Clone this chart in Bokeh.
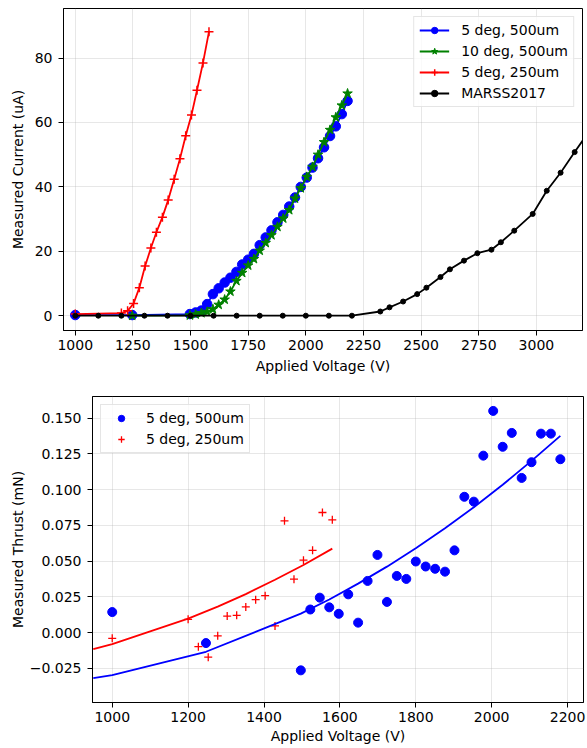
from bokeh.plotting import figure
from bokeh.models import Range1d, FixedTicker, CustomJSTickFormatter
from bokeh.embed import file_html
from bokeh.resources import INLINE

FONT = "DejaVu Sans"
FS = "14px"

# ---------------- Top chart: measured current ----------------
blue_v = [1000, 1247, 1497, 1522, 1547, 1572, 1597, 1622, 1648, 1673, 1699, 1724,
          1750, 1775, 1800, 1826, 1851, 1877, 1902, 1928, 1953, 1978, 2004, 2029,
          2053, 2079, 2105, 2130, 2156, 2181]
blue_i = [0.2, 0.2, 0.5, 1.0, 1.6, 3.6, 6.7, 8.5, 10.3, 11.8, 13.6, 15.9,
          17.4, 19.2, 21.9, 24.3, 26.5, 29.0, 31.3, 33.9, 36.7, 40.0, 42.9, 46.0,
          48.9, 52.3, 55.8, 58.8, 62.6, 66.7]

green_v = [1247, 1497, 1522, 1547, 1572, 1597, 1622, 1648, 1673, 1699, 1724,
           1750, 1775, 1800, 1826, 1851, 1877, 1902, 1928, 1953, 1978, 2004, 2029,
           2053, 2079, 2105, 2130, 2156, 2181]
green_i = [0.0, 0.1, 0.4, 0.8, 1.2, 2.0, 3.4, 5.0, 7.5, 10.8, 13.3,
           15.6, 17.6, 20.2, 22.6, 25.0, 27.6, 30.2, 32.8, 36.4, 39.6, 43.1, 46.2,
           50.0, 53.9, 57.7, 61.6, 65.3, 69.0]

red_v = [1000, 1200, 1227, 1253, 1278, 1303, 1328, 1352, 1378, 1403, 1429, 1454,
         1479, 1504, 1528, 1554, 1580]
red_i = [0.5, 0.8, 1.5, 3.8, 8.7, 15.4, 21.0, 25.9, 30.6, 35.9, 42.4, 48.7,
         55.9, 62.3, 70.0, 78.5, 88.2]

marss_v = [1000, 1100, 1200, 1300, 1400, 1500, 1600, 1700, 1800, 1900, 2000, 2100,
           2200, 2323, 2363, 2422, 2483, 2523, 2584, 2625, 2686, 2744, 2805, 2846,
           2904, 2984, 3045, 3105, 3166, 3226]
marss_i = [0, 0, 0, 0, 0, 0, 0, 0, 0, 0, 0, 0,
           0, 1.3, 2.6, 4.4, 6.7, 8.7, 12.0, 14.4, 17.1, 19.4, 20.5, 22.8,
           26.4, 31.6, 38.8, 44.4, 50.8, 57.0]

top_xticks = [1000, 1250, 1500, 1750, 2000, 2250, 2500, 2750, 3000]
top_yticks = [0, 20, 40, 60, 80]

# ---------------- Bottom chart: measured thrust ----------------
thr_b_v = blue_v
thr_b = [0.0143, -0.0074, -0.0265, 0.0161, 0.0244, 0.0176, 0.0131, 0.0267, 0.0069,
         0.0361, 0.0543, 0.0214, 0.0396, 0.0375, 0.0497, 0.0462, 0.0446, 0.0426,
         0.0575, 0.0950, 0.0916, 0.1238, 0.1551, 0.1300, 0.1397, 0.1082, 0.1192,
         0.1392, 0.1392, 0.1213]

thr_r_v = red_v
thr_r = [-0.0041, 0.0092, -0.0099, -0.0173, -0.0023, 0.0115, 0.0120, 0.0179, 0.0230,
         0.0258, 0.0046, 0.0782, 0.0373, 0.0506, 0.0575, 0.0840, 0.0789]

fit_b_v = [950, 1000, 1247, 1497, 1572, 1648, 1724, 1800, 1877, 1953, 2029, 2105, 2181]
fit_b = [-0.0320, -0.0299, -0.0135, 0.0132, 0.0231, 0.0342, 0.0461, 0.0590, 0.0730,
         0.0877, 0.1034, 0.1201, 0.1376]

fit_r_v = [950, 1000, 1200, 1278, 1352, 1429, 1504, 1580]
fit_r = [-0.0117, -0.0081, 0.0097, 0.0181, 0.0269, 0.0369, 0.0473, 0.0587]

bot_xticks = [1000, 1200, 1400, 1600, 1800, 2000, 2200]
bot_yticks = [-0.025, 0.0, 0.025, 0.05, 0.075, 0.1, 0.125, 0.15]


def style(p, ylab_standoff, xlab_standoff):
    p.outline_line_color = "black"
    p.outline_line_width = 1
    p.background_fill_color = "white"
    p.border_fill_color = "white"
    for ax in p.axis:
        ax.axis_line_color = "black"
        ax.axis_line_width = 1
        ax.major_tick_line_color = "black"
        ax.major_tick_line_width = 1
        ax.minor_tick_line_color = None
        ax.major_tick_out = 5
        ax.major_tick_in = 0
        ax.major_label_text_font = FONT
        ax.major_label_text_font_size = FS
        ax.major_label_text_color = "black"
        ax.axis_label_text_font = FONT
        ax.axis_label_text_font_size = FS
        ax.axis_label_text_font_style = "normal"
        ax.axis_label_text_color = "black"
    p.xaxis.major_label_standoff = 4
    p.xaxis.axis_label_standoff = xlab_standoff
    p.yaxis.major_label_standoff = 6
    p.yaxis.axis_label_standoff = ylab_standoff
    p.grid.grid_line_color = "#b0b0b0"
    p.grid.grid_line_alpha = 0.3
    p.grid.grid_line_width = 1


def style_legend(p, loc, standoff):
    lg = p.legend[0]
    lg.location = loc
    lg.margin = 8
    lg.padding = 5
    lg.spacing = 5
    lg.glyph_width = 30
    lg.glyph_height = 16
    lg.label_height = 16
    lg.label_standoff = standoff
    lg.label_text_font = FONT
    lg.label_text_font_size = FS
    lg.label_text_color = "black"
    lg.border_line_color = "#cccccc"
    lg.border_line_width = 1
    lg.background_fill_color = "white"
    lg.background_fill_alpha = 0.8


# ---- top figure
p1 = figure(width=585, height=376,
            min_border_left=63, min_border_right=3, min_border_top=8, min_border_bottom=44,
            x_range=Range1d(949, 3200), y_range=Range1d(-4.6, 95.4),
            output_backend="svg", toolbar_location=None)

p1.line(blue_v, blue_i, line_color="blue", line_width=1.8, legend_label="5 deg, 500um")
p1.scatter(blue_v, blue_i, marker="circle", size=9.5, fill_color="blue", line_color="blue",
           legend_label="5 deg, 500um")
p1.line(green_v, green_i, line_color="green", line_width=1.8, legend_label="10 deg, 500um")
p1.scatter(green_v, green_i, marker="star", size=10, fill_color="green", line_color="green",
           legend_label="10 deg, 500um")
p1.line(red_v, red_i, line_color="red", line_width=1.8, legend_label="5 deg, 250um")
p1.scatter(red_v, red_i, marker="cross", size=9, line_color="red", line_width=1.5,
           legend_label="5 deg, 250um")
p1.line(marss_v, marss_i, line_color="black", line_width=1.8, legend_label="MARSS2017")
p1.scatter(marss_v, marss_i, marker="circle", size=5, fill_color="black", line_color="black",
           legend_label="MARSS2017")

p1.xaxis.ticker = FixedTicker(ticks=top_xticks)
p1.yaxis.ticker = FixedTicker(ticks=top_yticks)
p1.xaxis.axis_label = "Applied Voltage (V)"
p1.yaxis.axis_label = "Measured Current (uA)"
style(p1, 6, 5)
style_legend(p1, "top_right", 12)

# ---- bottom figure
p2 = figure(width=586, height=370,
            min_border_left=92, min_border_right=3, min_border_top=20, min_border_bottom=44,
            x_range=Range1d(948, 2242), y_range=Range1d(-0.049, 0.1652),
            output_backend="svg", toolbar_location=None)

p2.scatter(thr_b_v, thr_b, marker="circle", size=9, fill_color="blue", line_color="blue",
           legend_label="5 deg, 500um")
p2.scatter(thr_r_v, thr_r, marker="cross", size=8, line_color="red", line_width=1.3,
           legend_label="5 deg, 250um")
p2.line(fit_b_v, fit_b, line_color="blue", line_width=1.8)
p2.line(fit_r_v, fit_r, line_color="red", line_width=1.8)

p2.xaxis.ticker = FixedTicker(ticks=bot_xticks)
p2.yaxis.ticker = FixedTicker(ticks=bot_yticks)
p2.yaxis.formatter = CustomJSTickFormatter(
    code="return (tick < 0 ? '\u2212' : '') + Math.abs(tick).toFixed(3);")
p2.xaxis.axis_label = "Applied Voltage (V)"
p2.yaxis.axis_label = "Measured Thrust (mN)"
style(p2, 1, 3)
style_legend(p2, "top_left", 10)

open("out.html", "w").write(file_html([p1, p2], INLINE))
